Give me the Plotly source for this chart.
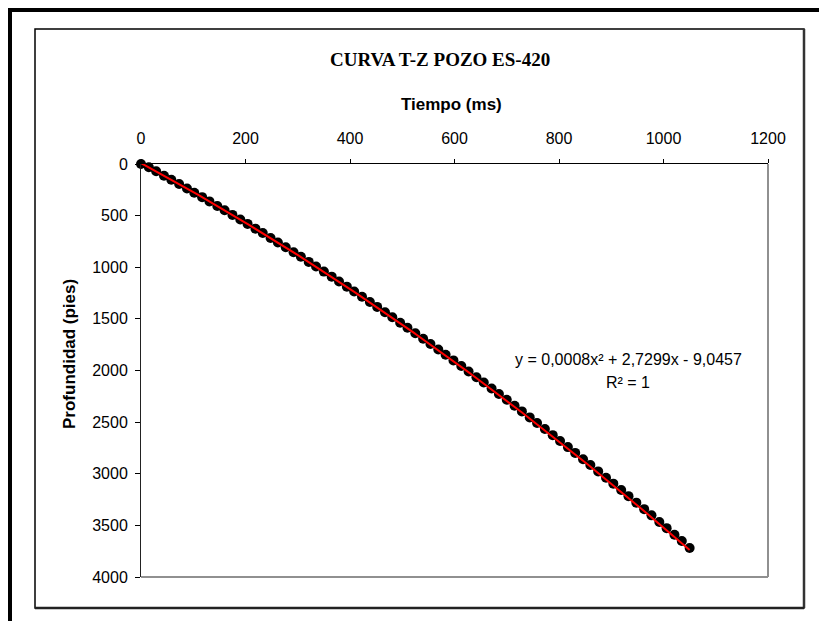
import numpy as np
import plotly.graph_objects as go

# Time-depth pairs (check-shot samples) for well ES-420
tiempo_ms = [0, 15, 29, 44, 58, 73, 88, 102, 117, 131, 146, 160, 175, 190, 204,
             219, 233, 248, 262, 277, 292, 306, 321, 335, 350, 365, 379, 394, 408,
             423, 438, 452, 467, 481, 496, 510, 525, 540, 554, 569, 583, 598, 613,
             627, 642, 656, 671, 685, 700, 715, 729, 744, 758, 773, 788, 802, 817,
             831, 846, 860, 875, 890, 904, 919, 933, 948, 963, 977, 992, 1006,
             1021, 1035, 1050]
profundidad_pies = [0, 32, 71, 113, 152, 194, 237, 278, 321, 362, 406, 448, 493,
                    538, 580, 626, 669, 716, 760, 807, 855, 899, 948, 993, 1042,
                    1091, 1138, 1188, 1235, 1285, 1336, 1384, 1436, 1484, 1537,
                    1586, 1639, 1693, 1743, 1797, 1848, 1902, 1957, 2009, 2065,
                    2117, 2174, 2227, 2284, 2342, 2396, 2454, 2508, 2567, 2626,
                    2682, 2742, 2798, 2859, 2916, 2977, 3038, 3096, 3158, 3217,
                    3280, 3343, 3403, 3467, 3527, 3591, 3652, 3719]

# Second-order polynomial trendline coefficients (highest power first)
coef_tendencia = [0.0008, 2.7299, -9.0457]

x_ticks = [0, 200, 400, 600, 800, 1000, 1200]
y_ticks = [0, 500, 1000, 1500, 2000, 2500, 3000, 3500, 4000]

titulo = "CURVA T-Z POZO ES-420"
titulo_x = "Tiempo (ms)"
titulo_y = "Profundidad (pies)"
ecuacion = "y = 0,0008x² + 2,7299x - 9,0457"
r2 = "R² = 1"

W, H = 819, 621
L, R, T, B = 141, 768, 164, 577


def px(x):
    return (x - L) / (R - L)


def py(y):
    return (B - y) / (B - T)


x_fit = np.linspace(0, max(tiempo_ms), 300)
y_fit = np.polyval(coef_tendencia, x_fit)

fig = go.Figure()
fig.add_trace(go.Scatter(
    x=tiempo_ms, y=profundidad_pies, mode="markers",
    marker=dict(color="black", size=10, line=dict(width=0)),
    cliponaxis=False, showlegend=False, hoverinfo="skip"))
fig.add_trace(go.Scatter(
    x=x_fit, y=y_fit, mode="lines",
    line=dict(color="#ff0000", width=2),
    showlegend=False, hoverinfo="skip"))

tick_font = dict(family="Liberation Sans, Arial", size=16, color="black")

fig.update_layout(
    width=W, height=H,
    margin=dict(l=L, r=W - R, t=T, b=H - B, pad=0),
    paper_bgcolor="white", plot_bgcolor="white",
    xaxis=dict(range=[0, 1200], tickvals=x_ticks, side="top",
               showline=True, linecolor="black", linewidth=1,
               ticks="outside", ticklen=4, tickcolor="black",
               showgrid=False, zeroline=False, tickfont=tick_font,
               ticklabelstandoff=9),
    yaxis=dict(range=[4000, 0], tickvals=y_ticks,
               showline=True, linecolor="#222", linewidth=1,
               ticks="outside", ticklen=5, tickcolor="black",
               showgrid=False, zeroline=False, tickfont=tick_font,
               ticklabelstandoff=4),
)

shapes = [
    # plot-area border (right and bottom)
    dict(type="line", xref="paper", yref="paper", x0=1, x1=1, y0=0, y1=1,
         line=dict(color="#909090", width=2)),
    dict(type="line", xref="paper", yref="paper", x0=0, x1=1, y0=0, y1=0,
         line=dict(color="#909090", width=2)),
    # chart-area frame
    dict(type="rect", xref="paper", yref="paper",
         x0=px(35), x1=px(804), y0=py(608), y1=py(29),
         line=dict(color="black", width=1.5), layer="below"),
    dict(type="line", xref="paper", yref="paper",
         x0=px(804), x1=px(804), y0=py(608), y1=py(29),
         line=dict(color="#333", width=2.5)),
    dict(type="line", xref="paper", yref="paper",
         x0=px(35), x1=px(804), y0=py(608), y1=py(608),
         line=dict(color="#222", width=2.5)),
    # heavy outer rules
    dict(type="line", xref="paper", yref="paper",
         x0=px(8), x1=px(819), y0=py(10), y1=py(10),
         line=dict(color="black", width=4)),
    dict(type="line", xref="paper", yref="paper",
         x0=px(10), x1=px(10), y0=py(8), y1=py(621),
         line=dict(color="black", width=4)),
]
fig.update_layout(shapes=shapes)

annotations = [
    dict(text=f"<b>{titulo}</b>", x=px(440), y=py(59),
         font=dict(family="Liberation Serif, Times New Roman", size=19, color="black")),
    dict(text=f"<b>{titulo_x}</b>", x=px(451), y=py(104),
         font=dict(family="Liberation Sans, Arial", size=17, color="black")),
    dict(text=f"<b>{titulo_y}</b>", x=px(69), y=py(354), textangle=-90,
         font=dict(family="Liberation Sans, Arial", size=17, color="black")),
    dict(text=ecuacion, x=px(628), y=py(359),
         font=dict(family="Liberation Sans, Arial", size=16, color="black")),
    dict(text=r2, x=px(628), y=py(382),
         font=dict(family="Liberation Sans, Arial", size=16, color="black")),
]
for a in annotations:
    a.update(xref="paper", yref="paper", showarrow=False,
             xanchor="center", yanchor="middle")
fig.update_layout(annotations=annotations)

fig.write_html("out.html")
